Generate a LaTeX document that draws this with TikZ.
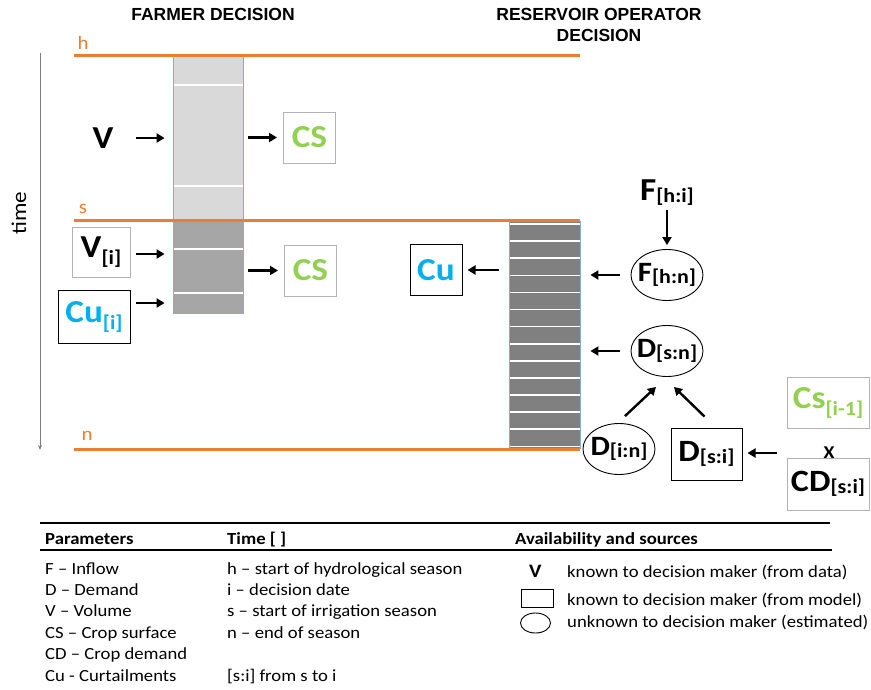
\documentclass[tikz,border=0pt]{standalone}
\usepackage{fontspec}
\setmainfont{Carlito}[FakeStretch=1.1]
\newfontfamily\headfont{Liberation Sans}
\usetikzlibrary{shapes.geometric}
\usetikzlibrary{arrows.meta}
\usepackage{xcolor}
\definecolor{seasonorange}{HTML}{ED7D31}
\definecolor{cropgreen}{HTML}{92D050}
\definecolor{cutblue}{HTML}{00B0F0}
\definecolor{barlight}{HTML}{D9D9D9}
\definecolor{barmid}{HTML}{A6A6A6}
\definecolor{bardark}{HTML}{808080}
\definecolor{baredge}{HTML}{8FA9C9}
% small index after a symbol: low = true subscript, flat = almost on the baseline
\newcommand{\idxlow}[1]{\raisebox{-7pt}{\fontsize{20}{20}\selectfont\bfseries #1}}
\newcommand{\idxflat}[1]{\raisebox{-2pt}{\fontsize{20}{20}\selectfont\bfseries #1}}

\begin{document}
\begin{tikzpicture}[x=1pt, y=-1pt]
        % ================= styles =================
        \tikzset{
            % orange season lines and their letters
            season_line/.style={line width=3pt, seasonorange},
            season_lbl/.style={text=seasonorange, font=\fontsize{19}{19}\selectfont, inner sep=0pt},
            % bars (time steps)
            bar_part/.style={rectangle, draw=baredge, line width=0.8pt, inner sep=0pt, minimum width=70pt},
            bar_gap/.style={white, line width=1.6pt},
            % black arrows
            flow_arrow/.style={line width=2.4pt, -{Triangle[length=8pt, width=9pt]}},
            % known from data: bare text
            data_lbl/.style={inner sep=0pt, font=\fontsize{32}{32}\selectfont\bfseries},
            % known from model: boxes
            given_box/.style={rectangle, draw=black!30, line width=1pt, inner sep=0pt,
                minimum width=52pt, minimum height=51pt, font=\fontsize{32}{32}\selectfont\bfseries},
            model_box/.style={given_box, draw=black},
            % unknown: ellipses
            est_node/.style={ellipse, draw=black, line width=0.9pt, inner xsep=-8pt, inner ysep=0pt,
                minimum width=72pt, minimum height=51pt, font=\fontsize{28}{28}\selectfont\bfseries},
            head_lbl/.style={font=\headfont\fontsize{17.5}{21}\selectfont\bfseries, align=center, inner sep=0pt},
            legend_txt/.style={anchor=base west, inner sep=0pt, font=\fontsize{17}{17}\selectfont}
        }
        \useasboundingbox (0,0) rectangle (871,689);

        % ================= titles =================
        \node[head_lbl] (farm_title) at (213,14) {FARMER DECISION};
        \node[head_lbl] (res_title) at (599,25) {RESERVOIR OPERATOR\\DECISION};

        % ================= time axis =================
        \draw[gray, line width=0.8pt, -{Stealth[length=5pt, width=4pt]}] (40,53) -- (40,450);
        \node[rotate=90, font=\fontsize{21}{21}\selectfont] (time_lbl) at (19,213) {time};

        % ================= bars =================
        \node[bar_part, fill=barlight, minimum height=165pt] (farm_top) at (208,137.5) {};
        \node[bar_part, fill=barmid, minimum height=93pt] (farm_bot) at (208,266.5) {};
        \foreach \y in {85,186,249,293} {
            \draw[bar_gap] (173.5,\y) -- (242.5,\y);
        }
        \node[bar_part, fill=bardark, minimum width=71pt, minimum height=227pt] (res_bar) at (544.5,334.5) {};
        \foreach \k in {0,...,13} {
            \draw[bar_gap] (509.5,{224+17.1*\k}) -- (579.5,{224+17.1*\k});
        }

        % ================= season lines h, s, n =================
        \draw[season_line] (74,55) -- (580,55);
        \draw[season_line] (74,220) -- (580,220);
        \draw[season_line] (74,449) -- (580,449);
        \node[season_lbl] (h_lbl) at (83,43) {h};
        \node[season_lbl] (s_lbl) at (83,209) {s};
        \node[season_lbl] (n_lbl) at (87,436) {n};

        % ================= farmer =================
        \node[data_lbl] (V) at (103,138) {V};
        \node[given_box, minimum width=58pt, minimum height=50pt] (V_i) at (101,252) {V\idxlow{[i]}};
        \node[model_box, minimum width=72pt, minimum height=53pt, text=cutblue] (Cu_i) at (94,316.5) {Cu\idxlow{[i]}};
        \node[given_box, text=cropgreen] (CS_a) at (309.5,137.5) {CS};
        \node[given_box, text=cropgreen] (CS_b) at (310.5,270.5) {CS};

        \draw[flow_arrow, shorten <=22pt, shorten >=8pt] (V) -- (V -| farm_top.west);
        \draw[flow_arrow, shorten <=5pt, shorten >=8pt] ([yshift=-2pt]V_i.east) -- ([yshift=-2pt]V_i.east -| farm_bot.west);
        \draw[flow_arrow, shorten <=5pt, shorten >=8pt] ([yshift=13.5pt]Cu_i.east) -- ([yshift=13.5pt]Cu_i.east -| farm_bot.west);
        \draw[flow_arrow, shorten <=5pt, shorten >=6pt] (CS_a -| farm_top.east) -- (CS_a);
        \draw[flow_arrow, shorten <=5pt, shorten >=6pt] (CS_b -| farm_bot.east) -- (CS_b);

        % ================= reservoir operator =================
        \node[model_box, text=cutblue] (Cu) at (436,270) {Cu};
        \node[data_lbl] (F_hi) at (667,193) {F\idxflat{[h:i]}};
        \node[est_node] (F_hn) at (667,275) {F\idxflat{[h:n]}};
        \node[est_node] (D_sn) at (667,351) {D\idxflat{[s:n]}};
        \node[est_node] (D_in) at (619,449) {D\idxflat{[i:n]}};
        \node[model_box, minimum width=71pt, minimum height=52pt, font=\fontsize{31}{31}\selectfont\bfseries] (D_si) at (706.5,454) {D\idxflat{[s:i]}};
        \node[given_box, minimum width=82pt, text=cropgreen] (Cs_prev) at (828,402.5) {Cs\idxlow{[i-1]}};
        \node[inner sep=0pt, font=\fontsize{18}{18}\selectfont\bfseries] (times) at (829,453) {X};
        \node[given_box, minimum width=82pt, minimum height=52pt, font=\fontsize{31}{31}\selectfont\bfseries] (CD_si) at (828,484) {CD\idxflat{[s:i]}};

        \draw[flow_arrow, shorten <=10pt, shorten >=5pt] (Cu -| res_bar.west) -- (Cu);
        \draw[flow_arrow, shorten <=4pt, shorten >=4pt] (F_hi) -- (F_hn);
        \draw[flow_arrow, shorten <=11pt, shorten >=10pt] (F_hn.west) -- (F_hn.west -| res_bar.east);
        \draw[flow_arrow, shorten <=11pt, shorten >=10pt] (D_sn.west) -- (D_sn.west -| res_bar.east);
        \draw[flow_arrow] ([xshift=6pt, yshift=7pt]D_in.north) -- ([xshift=-11pt, yshift=-10pt]D_sn.south);
        \draw[flow_arrow] ([xshift=-2pt, yshift=11pt]D_si.north) -- ([xshift=7pt, yshift=-10pt]D_sn.south);
        \draw[flow_arrow, shorten <=10pt, shorten >=5pt] (times -| Cs_prev.west) -- (times -| D_si.east);

        % ================= legend =================
        \draw[line width=1.2pt] (40,523) -- (830,523);
        \draw[line width=1.2pt] (40,550) -- (832,550);
        \node[legend_txt, font=\fontsize{17}{17}\selectfont\bfseries] (par_head) at (45,544) {Parameters};
        \node[legend_txt, font=\fontsize{17}{17}\selectfont\bfseries] (time_head) at (227,544) {Time [ ]};
        \node[legend_txt, font=\fontsize{17}{17}\selectfont\bfseries] (src_head) at (515,544) {Availability and sources};

        \foreach \txt [count=\k] in {F – Inflow, D – Demand, V – Volume, CS – Crop surface, CD – Crop demand, Cu - Curtailments} {
            \node[legend_txt] (par\k) at (45,{552.6+21.4*\k}) {\txt};
        }
        \foreach \k/\txt in {1/h – start of hydrological season, 2/i – decision date, 3/s – start of irrigation season, 4/n – end of season, 6/{[s:i] from s to i}} {
            \node[legend_txt] (time\k) at (227,{552.6+21.4*\k}) {\txt};
        }

        \node[legend_txt, font=\fontsize{19}{19}\selectfont\bfseries] (key_V) at (529,577) {V};
        \node[rectangle, draw, line width=0.9pt, minimum width=32pt, minimum height=18pt] (key_box) at (537,598) {};
        \node[ellipse, draw, line width=0.9pt, minimum width=30pt, minimum height=20pt] (key_ell) at (535.5,623) {};
        \node[legend_txt] (src1) at (567,577) {known to decision maker (from data)};
        \node[legend_txt] (src2) at (567,605) {known to decision maker (from model)};
        \node[legend_txt] (src3) at (567,627) {unknown to decision maker (estimated)};

    \end{tikzpicture}
\end{document}
